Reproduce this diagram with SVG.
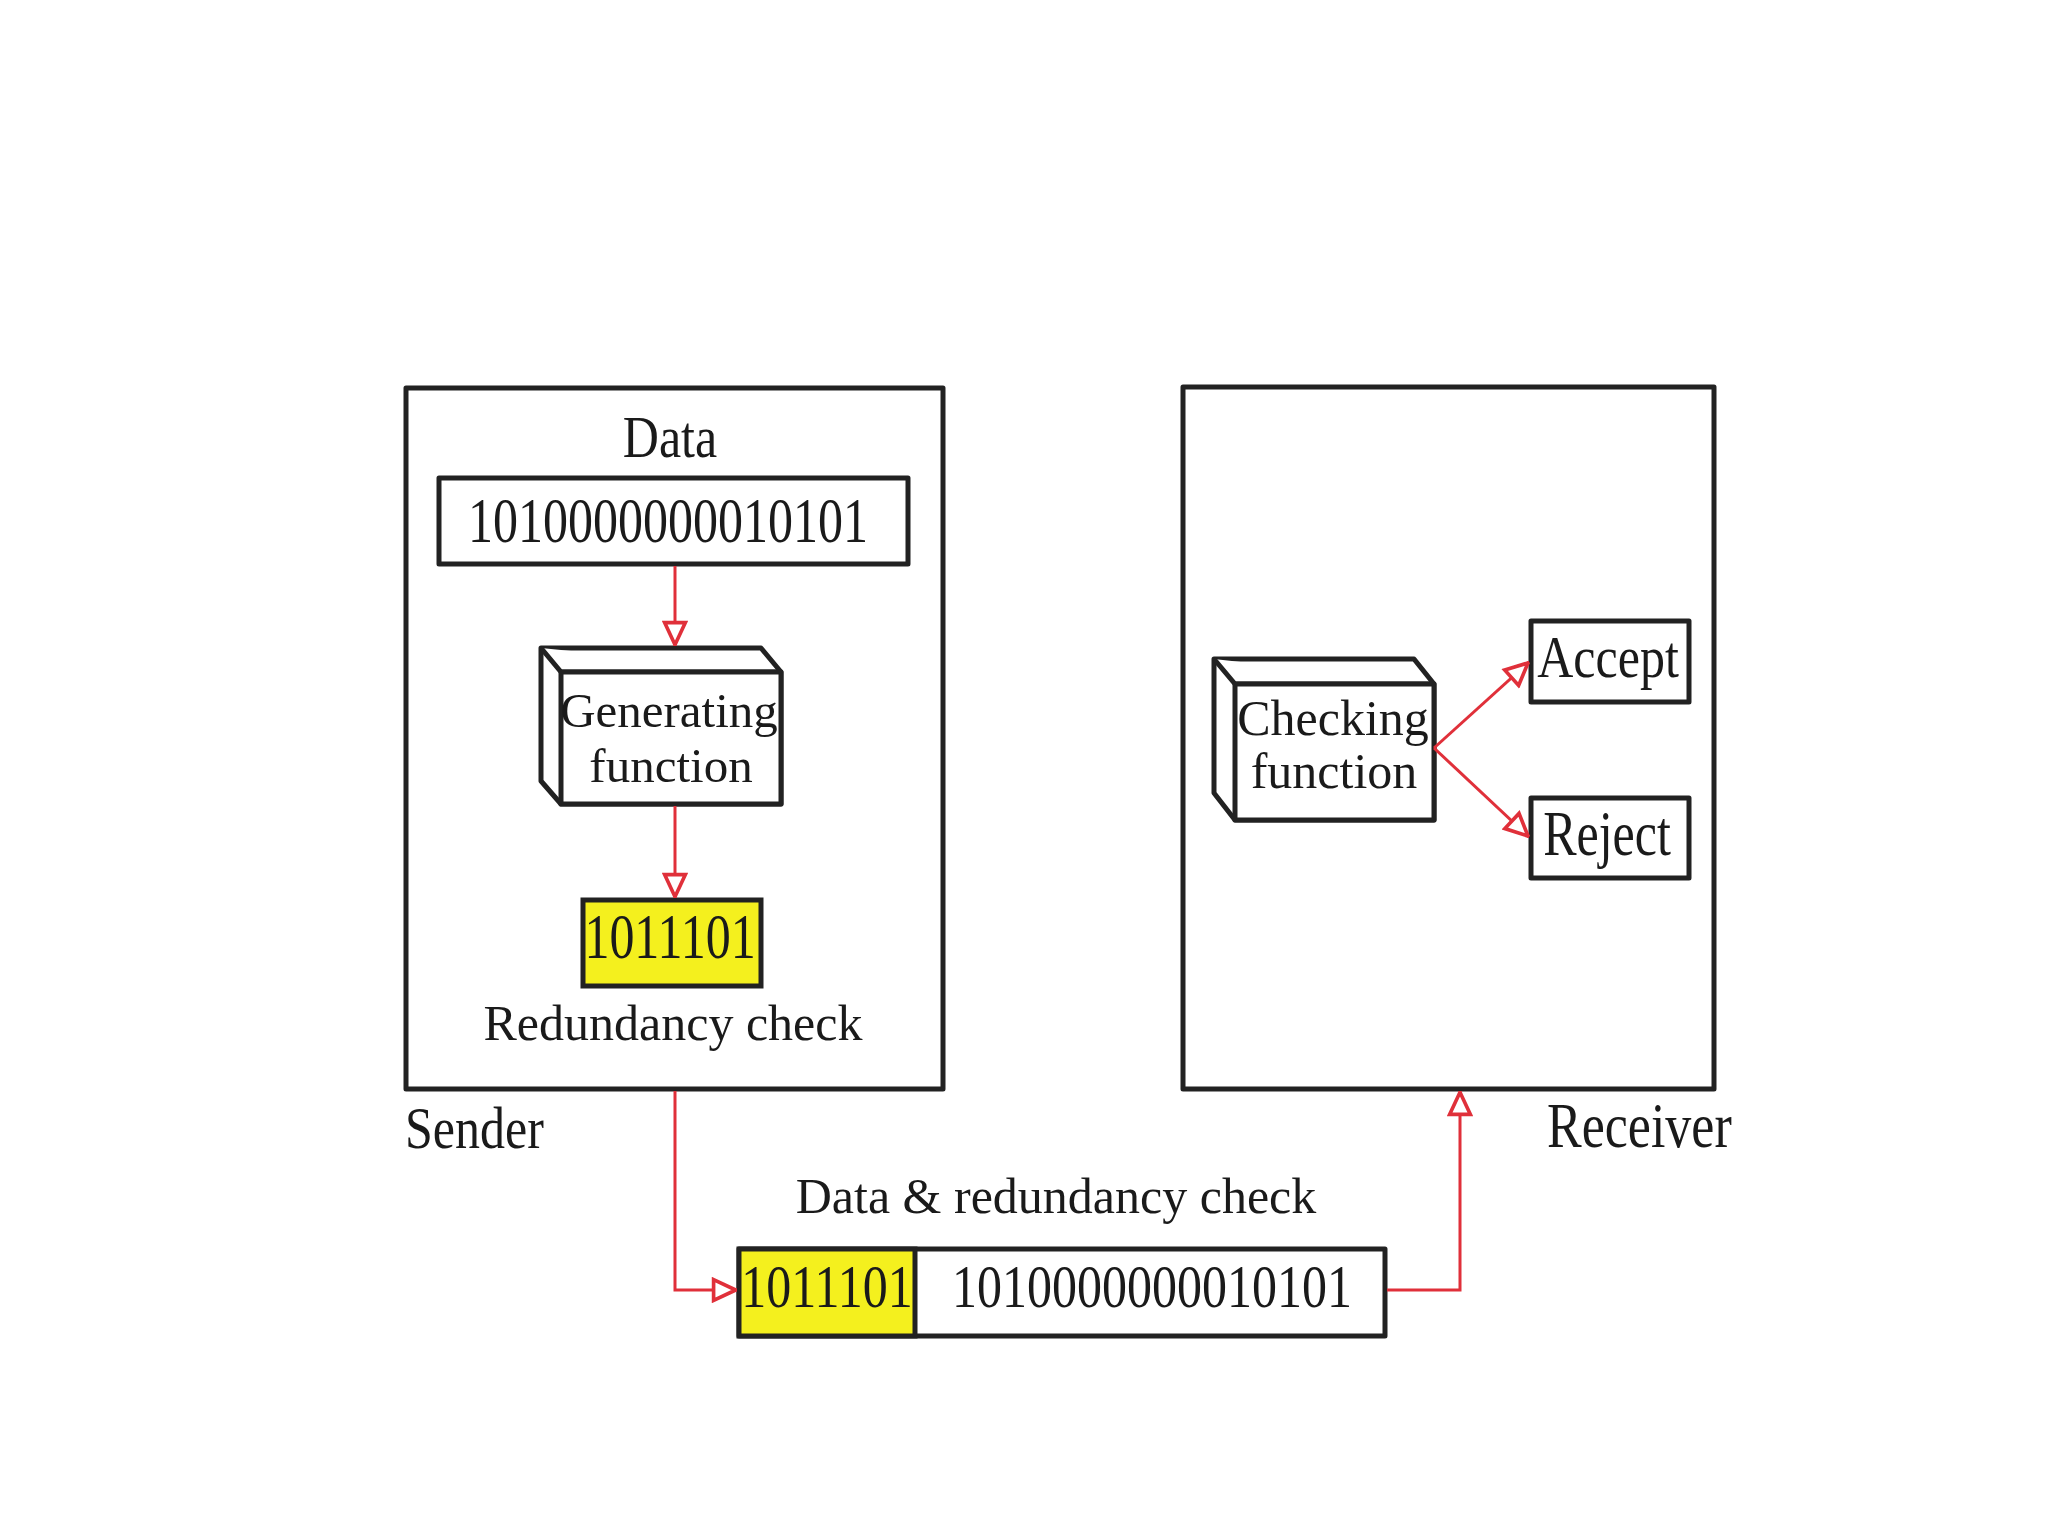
<svg xmlns="http://www.w3.org/2000/svg" width="2048" height="1536" viewBox="0 0 2048 1536">
<defs>
<style>
.box{fill:#fff;stroke:#222;stroke-width:5;stroke-linejoin:round}
.yel{fill:#f4f01e;stroke:#222;stroke-width:5}
.t{font-family:"Liberation Serif","Times New Roman",serif;font-size:50px;fill:#1a1a1a}
.c{text-anchor:middle}
.con{fill:none;stroke:#e0303a;stroke-width:3}
</style>
<marker id="ah" viewBox="0 0 10 10" refX="10" refY="5" markerUnits="userSpaceOnUse" markerWidth="26" markerHeight="26" orient="auto">
<path d="M1,1 L9.5,5 L1,9 z" fill="#fff" stroke="#e0303a" stroke-width="1.4" stroke-linejoin="miter"/>
</marker>
</defs>
<rect width="2048" height="1536" fill="#fff"/>

<g id="sender">
<rect class="box" x="406" y="388" width="537" height="701"/>
<text class="t" transform="translate(405,1148) scale(1,1.2)">Sender</text>
</g>
<g id="receiver">
<rect class="box" x="1183" y="387" width="531" height="702"/>
<text class="t" style="font-size:52px" transform="translate(1547,1147) scale(1,1.2)">Receiver</text>
</g>

<g id="data">
<text class="t c" transform="translate(670,457) scale(1,1.2)">Data</text>
<rect class="box" x="439" y="478" width="469" height="86"/>
<text class="t c" transform="translate(668,542) scale(1,1.25)">1010000000010101</text>
</g>

<g id="generating">
<polygon class="box" points="541,648 761,648 781,672 781,804 561,804 541,781"/>
<polyline class="box" points="541,648 561,672 781,672" fill="none"/>
<rect class="box" x="561" y="672" width="220" height="132"/>
<text class="t c" style="font-size:49px" x="669" y="727">Generating</text>
<text class="t c" style="font-size:49px" x="671" y="782">function</text>
</g>

<g id="redundancy">
<rect class="yel" x="583" y="900" width="178" height="86"/>
<text class="t c" transform="translate(670,958) scale(1,1.25)">1011101</text>
<text class="t c" x="673" y="1040">Redundancy check</text>
</g>

<g id="checking">
<polygon class="box" points="1214,659 1414,659 1434,684 1434,820 1235,820 1214,793"/>
<polyline class="box" points="1214,659 1235,684 1434,684" fill="none"/>
<rect class="box" x="1235" y="684" width="199" height="136"/>
<text class="t c" x="1333" y="735">Checking</text>
<text class="t c" x="1334" y="788">function</text>
</g>

<g id="accept">
<rect class="box" x="1531" y="621" width="158" height="81"/>
<text class="t c" transform="translate(1608,677) scale(1,1.2)">Accept</text>
</g>
<g id="reject">
<rect class="box" x="1531" y="798" width="158" height="80"/>
<text class="t c" transform="translate(1607,855) scale(1,1.25)">Reject</text>
</g>

<g id="frame">
<text class="t c" x="1056" y="1213">Data &amp; redundancy check</text>
<rect class="box" x="739" y="1249" width="646" height="87"/>
<rect class="yel" x="739" y="1249" width="176" height="87"/>
<text class="t c" transform="translate(827,1307) scale(1,1.22)">1011101</text>
<text class="t c" transform="translate(1152,1307) scale(1,1.22)">1010000000010101</text>
</g>

<g id="connectors">
<line class="con" x1="675" y1="566" x2="675" y2="646" marker-end="url(#ah)"/>
<line class="con" x1="675" y1="806" x2="675" y2="898" marker-end="url(#ah)"/>
<line class="con" x1="1434" y1="748" x2="1529" y2="662" marker-end="url(#ah)"/>
<line class="con" x1="1434" y1="748" x2="1529" y2="837" marker-end="url(#ah)"/>
<polyline class="con" points="675,1091 675,1290 737,1290" marker-end="url(#ah)"/>
<polyline class="con" points="1387,1290 1460,1290 1460,1091" marker-end="url(#ah)"/>
</g>
</svg>
